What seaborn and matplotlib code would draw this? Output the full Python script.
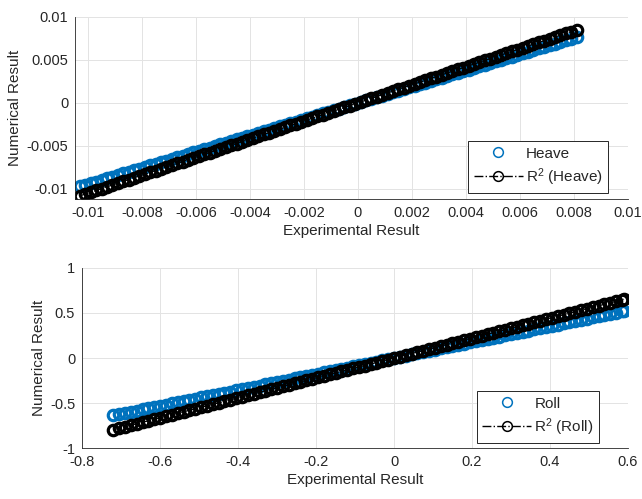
import matplotlib
matplotlib.use("Agg")
import matplotlib.pyplot as plt
import seaborn as sns

# ---------------- data ----------------
heave_exp = [-0.0103, -0.0101, -0.0099, -0.0097, -0.0095, -0.0093, -0.0091, -0.0089, -0.0087, -0.0085,
             -0.0083, -0.0081, -0.0079, -0.0077, -0.0075, -0.0073, -0.0071, -0.0069, -0.0067, -0.0065,
             -0.0063, -0.0061, -0.0059, -0.0057, -0.0055, -0.0053, -0.0051, -0.0049, -0.0047, -0.0045,
             -0.0043, -0.0041, -0.0039, -0.0037, -0.0035, -0.0033, -0.0031, -0.0029, -0.0027, -0.0025,
             -0.0023, -0.0021, -0.0019, -0.0017, -0.0015, -0.0013, -0.0011, -0.0009, -0.0007, -0.0005,
             -0.0003, -0.0001, 0.0001, 0.0003, 0.0005, 0.0007, 0.0009, 0.0011, 0.0013, 0.0015,
             0.0017, 0.0019, 0.0021, 0.0023, 0.0025, 0.0027, 0.0029, 0.0031, 0.0033, 0.0035,
             0.0037, 0.0039, 0.0041, 0.0043, 0.0045, 0.0047, 0.0049, 0.0051, 0.0053, 0.0055,
             0.0057, 0.0059, 0.0061, 0.0063, 0.0065, 0.0067, 0.0069, 0.0071, 0.0073, 0.0075,
             0.0077, 0.0079, 0.0081]
heave_num = [-0.00973, -0.00954, -0.00936, -0.00917, -0.00898, -0.00879, -0.00860, -0.00841, -0.00822, -0.00803,
             -0.00784, -0.00765, -0.00747, -0.00728, -0.00709, -0.00690, -0.00671, -0.00652, -0.00633, -0.00614,
             -0.00595, -0.00576, -0.00558, -0.00539, -0.00520, -0.00501, -0.00482, -0.00463, -0.00444, -0.00425,
             -0.00406, -0.00387, -0.00369, -0.00350, -0.00331, -0.00312, -0.00293, -0.00274, -0.00255, -0.00236,
             -0.00217, -0.00198, -0.00180, -0.00161, -0.00142, -0.00123, -0.00104, -0.00085, -0.00066, -0.00047,
             -0.00028, -0.00009, 0.00009, 0.00028, 0.00047, 0.00066, 0.00085, 0.00104, 0.00123, 0.00142,
             0.00161, 0.00180, 0.00198, 0.00217, 0.00236, 0.00255, 0.00274, 0.00293, 0.00312, 0.00331,
             0.00350, 0.00369, 0.00387, 0.00406, 0.00425, 0.00444, 0.00463, 0.00482, 0.00501, 0.00520,
             0.00539, 0.00558, 0.00576, 0.00595, 0.00614, 0.00633, 0.00652, 0.00671, 0.00690, 0.00709,
             0.00728, 0.00747, 0.00765]
heave_fit = [-0.01082, -0.01061, -0.01040, -0.01019, -0.00998, -0.00977, -0.00956, -0.00935, -0.00914, -0.00893,
             -0.00872, -0.00851, -0.00830, -0.00809, -0.00788, -0.00767, -0.00746, -0.00725, -0.00704, -0.00683,
             -0.00662, -0.00641, -0.00620, -0.00599, -0.00578, -0.00557, -0.00536, -0.00515, -0.00494, -0.00473,
             -0.00452, -0.00431, -0.00410, -0.00389, -0.00368, -0.00347, -0.00326, -0.00305, -0.00284, -0.00263,
             -0.00242, -0.00221, -0.00200, -0.00179, -0.00158, -0.00137, -0.00116, -0.00095, -0.00074, -0.00053,
             -0.00032, -0.00011, 0.00011, 0.00032, 0.00053, 0.00074, 0.00095, 0.00116, 0.00137, 0.00158,
             0.00179, 0.00200, 0.00221, 0.00242, 0.00263, 0.00284, 0.00305, 0.00326, 0.00347, 0.00368,
             0.00389, 0.00410, 0.00431, 0.00452, 0.00473, 0.00494, 0.00515, 0.00536, 0.00557, 0.00578,
             0.00599, 0.00620, 0.00641, 0.00662, 0.00683, 0.00704, 0.00725, 0.00746, 0.00767, 0.00788,
             0.00809, 0.00830, 0.00851]

roll_exp = [-0.720, -0.705, -0.690, -0.675, -0.660, -0.645, -0.630, -0.615, -0.600, -0.585,
            -0.570, -0.555, -0.540, -0.525, -0.510, -0.495, -0.480, -0.465, -0.450, -0.435,
            -0.420, -0.405, -0.390, -0.375, -0.360, -0.345, -0.330, -0.315, -0.300, -0.285,
            -0.270, -0.255, -0.240, -0.225, -0.210, -0.195, -0.180, -0.165, -0.150, -0.135,
            -0.120, -0.105, -0.090, -0.075, -0.060, -0.045, -0.030, -0.015, 0.000, 0.015,
            0.030, 0.045, 0.060, 0.075, 0.090, 0.105, 0.120, 0.135, 0.150, 0.165,
            0.180, 0.195, 0.210, 0.225, 0.240, 0.255, 0.270, 0.285, 0.300, 0.315,
            0.330, 0.345, 0.360, 0.375, 0.390, 0.405, 0.420, 0.435, 0.450, 0.465,
            0.480, 0.495, 0.510, 0.525, 0.540, 0.555, 0.570, 0.585, 0.590]
roll_num = [-0.637, -0.624, -0.611, -0.597, -0.584, -0.571, -0.558, -0.544, -0.531, -0.518,
            -0.504, -0.491, -0.478, -0.465, -0.451, -0.438, -0.425, -0.412, -0.398, -0.385,
            -0.372, -0.358, -0.345, -0.332, -0.319, -0.305, -0.292, -0.279, -0.266, -0.252,
            -0.239, -0.226, -0.212, -0.199, -0.186, -0.173, -0.159, -0.146, -0.133, -0.119,
            -0.106, -0.093, -0.080, -0.066, -0.053, -0.040, -0.027, -0.013, 0.000, 0.013,
            0.027, 0.040, 0.053, 0.066, 0.080, 0.093, 0.106, 0.119, 0.133, 0.146,
            0.159, 0.173, 0.186, 0.199, 0.212, 0.226, 0.239, 0.252, 0.266, 0.279,
            0.292, 0.305, 0.319, 0.332, 0.345, 0.358, 0.372, 0.385, 0.398, 0.412,
            0.425, 0.438, 0.451, 0.465, 0.478, 0.491, 0.504, 0.518, 0.522]
roll_fit = [-0.796, -0.779, -0.762, -0.746, -0.729, -0.713, -0.696, -0.680, -0.663, -0.646,
            -0.630, -0.613, -0.597, -0.580, -0.564, -0.547, -0.530, -0.514, -0.497, -0.481,
            -0.464, -0.448, -0.431, -0.414, -0.398, -0.381, -0.365, -0.348, -0.332, -0.315,
            -0.298, -0.282, -0.265, -0.249, -0.232, -0.215, -0.199, -0.182, -0.166, -0.149,
            -0.133, -0.116, -0.099, -0.083, -0.066, -0.050, -0.033, -0.017, 0.000, 0.017,
            0.033, 0.050, 0.066, 0.083, 0.099, 0.116, 0.133, 0.149, 0.166, 0.182,
            0.199, 0.215, 0.232, 0.249, 0.265, 0.282, 0.298, 0.315, 0.332, 0.348,
            0.365, 0.381, 0.398, 0.414, 0.431, 0.448, 0.464, 0.481, 0.497, 0.514,
            0.530, 0.547, 0.564, 0.580, 0.597, 0.613, 0.630, 0.646, 0.652]

top_xticks = [-0.01, -0.008, -0.006, -0.004, -0.002, 0, 0.002, 0.004, 0.006, 0.008, 0.01]
top_xticklabels = ["-0.01", "-0.008", "-0.006", "-0.004", "-0.002", "0", "0.002", "0.004", "0.006", "0.008", "0.01"]
top_yticks = [-0.01, -0.005, 0, 0.005, 0.01]
top_yticklabels = ["-0.01", "-0.005", "0", "0.005", "0.01"]
bot_xticks = [-0.8, -0.6, -0.4, -0.2, 0, 0.2, 0.4, 0.6]
bot_xticklabels = ["-0.8", "-0.6", "-0.4", "-0.2", "0", "0.2", "0.4", "0.6"]
bot_yticks = [-1, -0.5, 0, 0.5, 1]
bot_yticklabels = ["-1", "-0.5", "0", "0.5", "1"]

# ---------------- style ----------------
sns.set_theme(style="white")
plt.rcParams["font.family"] = ["Liberation Sans", "DejaVu Sans"]
plt.rcParams["mathtext.fontset"] = "custom"
plt.rcParams["mathtext.rm"] = "Liberation Sans"
plt.rcParams["mathtext.default"] = "regular"
plt.rcParams["axes.unicode_minus"] = False

BLUE = "#0072BD"
AXC = "#262626"

fig = plt.figure(figsize=(6.42, 4.99), dpi=100)
ax1 = fig.add_axes([0.117, 0.601, 0.861, 0.365])
ax2 = fig.add_axes([0.128, 0.102, 0.850, 0.361])


def draw(ax, x, y, yfit, name, xlim, ylim, xt, xtl, yt, ytl, anchor):
    sns.lineplot(x=x, y=y, ax=ax, estimator=None, sort=False, linestyle="none",
                 marker="o", markersize=7.5, markerfacecolor="none",
                 markeredgecolor=BLUE, markeredgewidth=2.3, color=BLUE, label=name)
    sns.lineplot(x=x, y=yfit, ax=ax, estimator=None, sort=False, linestyle="-.",
                 linewidth=1.0, marker="o", markersize=7.5, markerfacecolor="none",
                 markeredgecolor="black", markeredgewidth=2.3, color="black",
                 label="R$^2$ (" + name + ")")
    ax.set_xlim(*xlim)
    ax.set_ylim(*ylim)
    ax.set_xticks(xt)
    ax.set_xticklabels(xtl)
    ax.set_yticks(yt)
    ax.set_yticklabels(ytl)
    ax.grid(True, color="#e3e3e3", linewidth=0.7)
    ax.set_axisbelow(True)
    for s in ["top", "right"]:
        ax.spines[s].set_visible(False)
    for s in ["left", "bottom"]:
        ax.spines[s].set_color(AXC)
        ax.spines[s].set_linewidth(0.6)
    ax.tick_params(direction="in", length=3, width=0.6, color=AXC,
                   labelcolor=AXC, labelsize=10.5)
    ax.tick_params(axis="x", pad=5)
    ax.tick_params(axis="y", pad=5)
    ax.set_xlabel("Experimental Result", fontsize=11, color=AXC, labelpad=3)
    ax.set_ylabel("Numerical Result", fontsize=11, color=AXC, labelpad=3)
    leg = ax.legend(loc="lower right", bbox_to_anchor=anchor,
                    bbox_transform=fig.transFigure, fontsize=11, frameon=True,
                    fancybox=False, framealpha=1, edgecolor=AXC, handlelength=3.2,
                    borderpad=0.35, labelspacing=0.35, handletextpad=0.2,
                    borderaxespad=0)
    leg.get_frame().set_linewidth(0.7)
    for h in leg.legend_handles:
        h.set_markeredgewidth(1.1)
        h.set_markersize(7)
    for t in leg.get_texts():
        t.set_color(AXC)


draw(ax1, heave_exp, heave_num, heave_fit, "Heave", (-0.01048, 0.01), (-0.0112, 0.01),
     top_xticks, top_xticklabels, top_yticks, top_yticklabels, (0.947, 0.613))
draw(ax2, roll_exp, roll_num, roll_fit, "Roll", (-0.8, 0.6), (-1, 1),
     bot_xticks, bot_xticklabels, bot_yticks, bot_yticklabels, (0.933, 0.112))

fig.savefig("out.png", dpi=100)
